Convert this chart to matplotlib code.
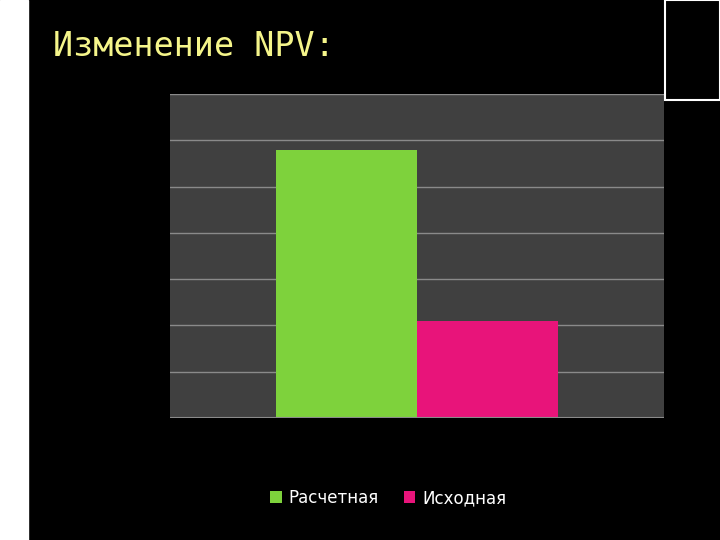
import matplotlib
matplotlib.use("Agg")
import matplotlib.pyplot as plt
from matplotlib.patches import Rectangle

series = ["Расчетная", "Исходная"]
values = [5.8, 2.1]
colors = ["#7ed23c", "#e8147a"]
title = "Изменение NPV:"

fig = plt.figure(figsize=(7.2, 5.4), dpi=100, facecolor="black")
# left white strip
fig.patches.append(Rectangle((0, 0), 28/720, 1, transform=fig.transFigure, color="white", zorder=0))
fig.patches.append(Rectangle((665/720, 440/540), 55/720, 100/540, transform=fig.transFigure,
                             fill=False, edgecolor="white", lw=1.5))

ax = fig.add_axes([170/720, 122/540, 494/720, 324/540])
ax.set_facecolor("#404040")
w = 141/494
for i, (s, v, c) in enumerate(zip(series, values, colors)):
    ax.bar(-w/2 + i*w, v, width=w, color=c, label=s, zorder=3)
ax.set_xlim(-0.5, 0.5)
ax.set_ylim(0, 7)
ax.set_yticks(range(8))
ax.yaxis.grid(True, color="#8a8a8a", lw=1)
ax.tick_params(left=False, bottom=False, labelleft=False, labelbottom=False)
for sp in ax.spines.values():
    sp.set_visible(False)
ax.axhline(0, color="#8a8a8a", lw=1.5, zorder=4)

fig.text(53/720, 1-47/540, title, color="#f5f58a", fontsize=24, family="DejaVu Sans Mono", va="center")
leg = fig.legend(loc="center", bbox_to_anchor=(388/720, 1-498/540), ncol=2, frameon=False,
                 fontsize=12, labelcolor="white", handlelength=0.7, handleheight=0.7,
                 columnspacing=1.5, handletextpad=0.4)
fig.savefig("out.png", facecolor="black")
